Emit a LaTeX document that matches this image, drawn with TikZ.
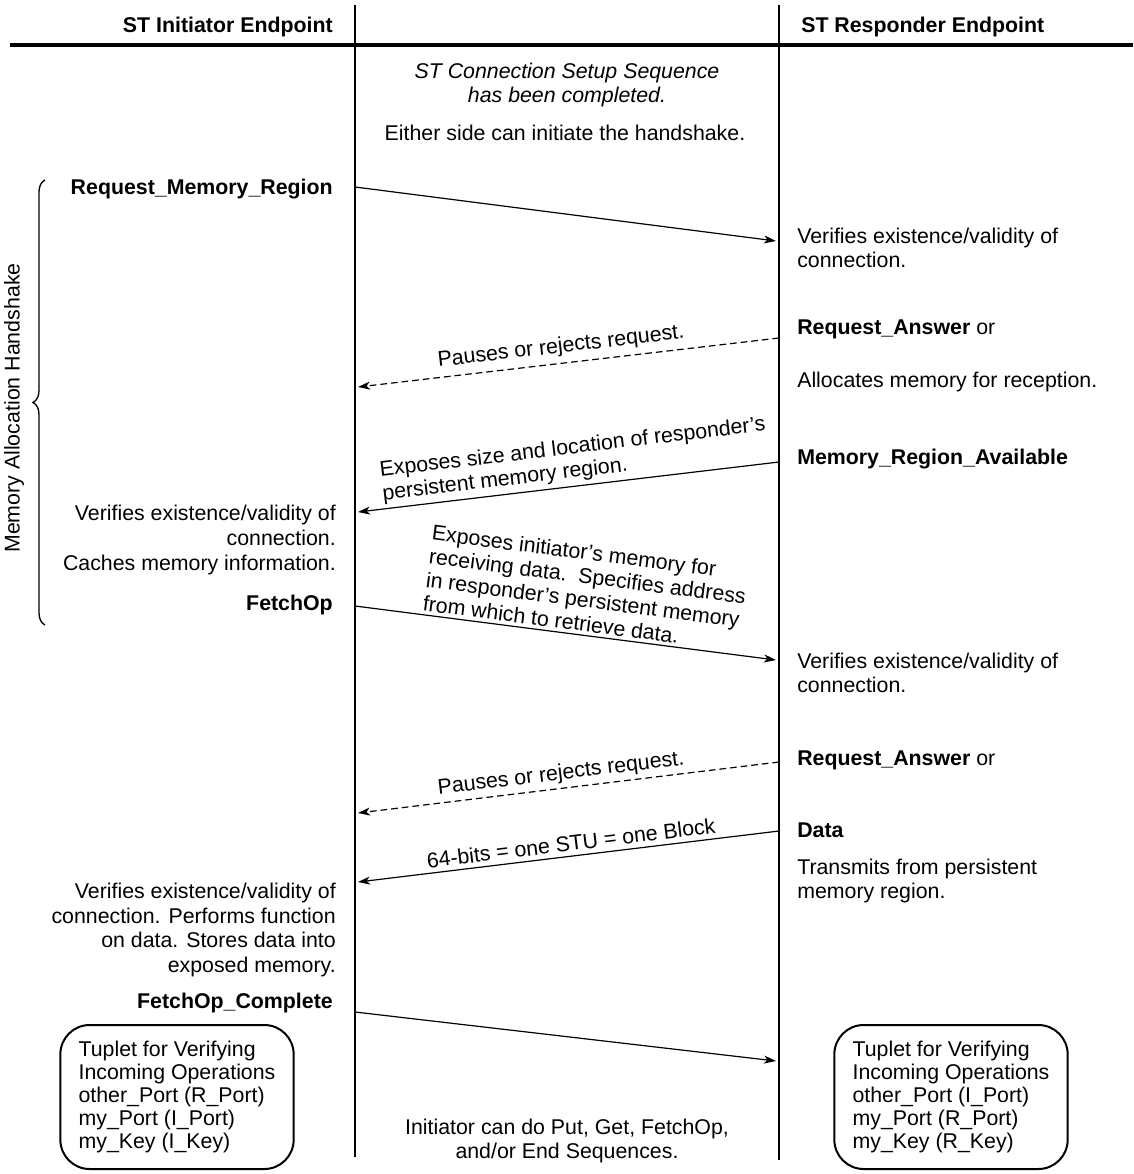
\documentclass[tikz,border=0pt]{standalone}
\usepackage{fontspec}
\setmainfont{Liberation Sans}
\usetikzlibrary{arrows.meta,decorations.pathreplacing}
\begin{document}
\begin{tikzpicture}[x=0.75pt,y=-0.75pt,
  every node/.style={inner sep=0pt},
  plain/.style={font=\fontsize{16}{18.5}\selectfont},
  strong/.style={font=\fontsize{16}{18.5}\selectfont\bfseries},
  slant/.style={font=\fontsize{16}{18}\selectfont\itshape},
  tag/.style={font=\fontsize{16}{17.8}\selectfont},
  lifeline/.style={line width=1.5pt},
  msg/.style={line width=0.9pt,-{Stealth[length=9pt,width=6pt,inset=2.5pt]}},
  reply/.style={msg,dash pattern=on 5pt off 3pt},
  tuple/.style={draw,line width=1.5pt,rounded corners=22pt,minimum width=175pt,
    minimum height=108pt,align=left,font=\fontsize{16}{17.1}\selectfont}]
\fill[white] (0,0) rectangle (1133,1174);
\useasboundingbox (0,0) rectangle (1133,1174);

% header rule and the two lifelines
\coordinate (ruleL) at (10,45);
\coordinate (ruleR) at (1133,45);
\draw[line width=2.4pt] (ruleL) -- (ruleR);
\coordinate (iTop) at (355,5);
\coordinate (iBot) at (355,1157);
\coordinate (rTop) at (779,5);
\coordinate (rBot) at (779,1160);
\draw[lifeline] (iTop) -- (iBot);
\draw[lifeline] (rTop) -- (rBot);

% column headings
\node[strong,anchor=east] (hdrI) at (333,27) {ST Initiator Endpoint};
\node[strong,anchor=west] (hdrR) at (801,27) {ST Responder Endpoint};

% preamble notes
\node[slant,align=center] (setup) at (567,85) {ST Connection Setup Sequence\\has been completed.};
\node[plain] (either) at (565,133) {Either side can initiate the handshake.};

% handshake brace
\coordinate (brTop) at (45,180);
\coordinate (brBot) at (45,625);
\draw[line width=1pt,decorate,decoration={brace,amplitude=9pt}] (brBot) -- (brTop);
\node[plain,rotate=90] (phase) at (14,408) {Memory Allocation Handshake};

% messages
\coordinate (m1s) at (355,187);  \coordinate (m1e) at (776,241);
\coordinate (m2s) at (779,338);  \coordinate (m2e) at (358,387);
\coordinate (m3s) at (779,462);  \coordinate (m3e) at (358,512);
\coordinate (m4s) at (355,606);  \coordinate (m4e) at (776,660);
\coordinate (m5s) at (779,762);  \coordinate (m5e) at (358,813);
\coordinate (m6s) at (779,831);  \coordinate (m6e) at (358,882);
\coordinate (m7s) at (355,1012); \coordinate (m7e) at (776,1061);
\draw[msg] (m1s) -- (m1e);
\draw[reply] (m2s) -- (m2e);
\draw[msg] (m3s) -- (m3e);
\draw[msg] (m4s) -- (m4e);
\draw[reply] (m5s) -- (m5e);
\draw[msg] (m6s) -- (m6e);
\draw[msg] (m7s) -- (m7e);

% message annotations
\node[tag,rotate=6.6] (m2lbl) at (561,347) {Pauses or rejects request.};
\node[tag,rotate=6.8,align=left] (m3lbl) at (574,460) {Exposes size and location of responder's\\persistent memory region.};
\node[tag,rotate=-7.3,align=left] (m4lbl) at (586,588) {Exposes initiator's memory for\\receiving data.\ \ Specifies address\\in responder's persistent memory\\from which to retrieve data.};
\node[tag,rotate=6.9] (m5lbl) at (561,774) {Pauses or rejects request.};
\node[tag,rotate=7] (m6lbl) at (571,843) {64-bits = one STU = one Block};

% initiator side
\node[strong,anchor=east] (l1) at (333,189) {Request\_Memory\_Region};
\node[plain,anchor=east,align=right] (l2) at (336,540) {Verifies existence/validity of\\connection.\\Caches memory information.};
\node[strong,anchor=east] (l3) at (333,605) {FetchOp};
\node[plain,anchor=east,align=right] (l4) at (336,930) {Verifies existence/validity of\\connection. Performs function\\on data. Stores data into\\exposed memory.};
\node[strong,anchor=east] (l5) at (333,1003) {FetchOp\_Complete};

% responder side
\node[plain,anchor=west,align=left] (r1) at (797,248) {Verifies existence/validity of\\connection.};
\node[plain,anchor=west] (r2) at (797,329) {\textbf{Request\_Answer} or};
\node[plain,anchor=west] (r3) at (797,382) {Allocates memory for reception.};
\node[strong,anchor=west] (r4) at (797,459) {Memory\_Region\_Available};
\node[plain,anchor=west,align=left] (r5) at (797,673) {Verifies existence/validity of\\connection.};
\node[plain,anchor=west] (r6) at (797,760) {\textbf{Request\_Answer} or};
\node[strong,anchor=west] (r7) at (797,830) {Data};
\node[plain,anchor=west,align=left] (r8) at (797,881) {Transmits from persistent\\memory region.};

% verification tuplets
\node[tuple] (tupI) at (177,1097) {Tuplet for Verifying\\Incoming Operations\\other\_Port (R\_Port)\\my\_Port (I\_Port)\\my\_Key (I\_Key)};
\node[tuple] (tupR) at (951,1097) {Tuplet for Verifying\\Incoming Operations\\other\_Port (I\_Port)\\my\_Port (R\_Port)\\my\_Key (R\_Key)};

% closing note
\node[plain,align=center] (next) at (567,1141) {Initiator can do Put, Get, FetchOp,\\and/or End Sequences.};
\end{tikzpicture}
\end{document}
